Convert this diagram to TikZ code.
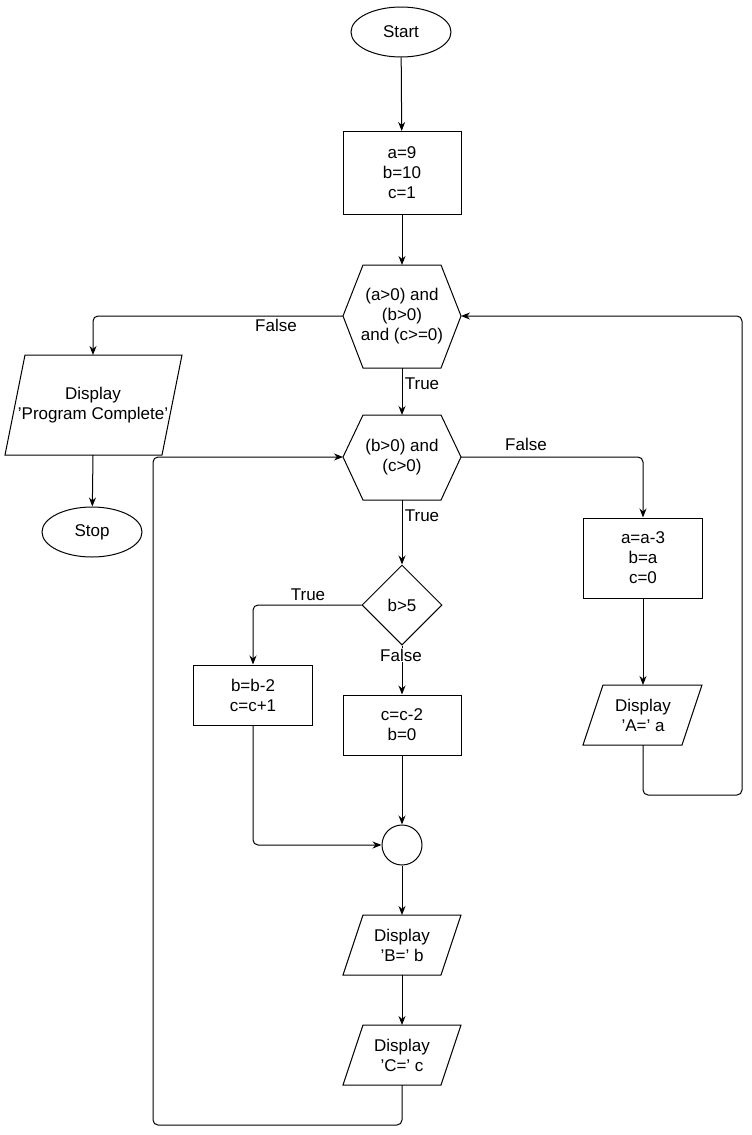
\documentclass[tikz,border=0pt]{standalone}
\usepackage{fontspec}
\setmainfont{Liberation Sans}
\usetikzlibrary{shapes.geometric,arrows.meta}
\begin{document}
\begin{tikzpicture}[x=1pt,y=-1pt,line width=1pt,
  every node/.style={font=\fontsize{17}{20}\selectfont,align=center,inner sep=0pt},
  box/.style={draw,minimum width=118pt,minimum height=#1},
  ell/.style={draw,ellipse,minimum width=100pt,minimum height=50pt},
  ar/.style={draw,-{Stealth[length=9pt,width=7pt]},rounded corners=5pt},
  lb/.style={fill=white,inner sep=1pt}]
\useasboundingbox (0,0) rectangle (752,1135);
\node[ell] (start) at (401,32) {Start};
\node[box=83pt] (init) at (402,173) {a=9\\b=10\\c=1};
\draw (343,316) -- (363,265) -- (441,265) -- (461,316) -- (441,368) -- (363,368) -- cycle;
\node (h1) at (402,316) {(a>0) and\\(b>0)\\and (c>=0)};
\coordinate (h1t) at (402,265); \coordinate (h1b) at (402,368);
\coordinate (h1l) at (343,316); \coordinate (h1r) at (461,316);
\draw (343,457) -- (363,415) -- (441,415) -- (461,457) -- (441,500) -- (363,500) -- cycle;
\node (h2) at (402,457) {(b>0) and\\(c>0)};
\coordinate (h2t) at (402,415); \coordinate (h2b) at (402,500);
\coordinate (h2l) at (343,457); \coordinate (h2r) at (461,457);
\draw (25,355) -- (182,355) -- (162,455) -- (5,455) -- cycle;
\node (pc) at (93,405) {Display\\'Program Complete'};
\coordinate (pct) at (93,355); \coordinate (pcb) at (93,455);
\node[ell] (stop) at (92,532) {Stop};
\node[box=80pt,minimum width=119pt] (aa) at (643,558) {a=a-3\\b=a\\c=0};
\draw (603,685) -- (702,685) -- (682,745) -- (583,745) -- cycle;
\node (pa) at (643,715) {Display\\'A=' a};
\coordinate (pat) at (643,685); \coordinate (pab) at (643,745);
\node[draw,diamond,minimum width=80pt,minimum height=80pt] (d) at (402,605) {b>5};
\node[box=60pt,minimum width=119pt] (bb) at (253,695) {b=b-2\\c=c+1};
\node[box=60pt] (cc) at (402,725) {c=c-2\\b=0};
\node[draw,circle,minimum size=40pt] (j) at (402,845) {};
\draw (363,915) -- (461,915) -- (441,975) -- (343,975) -- cycle;
\node (pb) at (402,945) {Display\\'B=' b};
\coordinate (pbt) at (402,915); \coordinate (pbb) at (402,975);
\draw (363,1025) -- (461,1025) -- (441,1085) -- (343,1085) -- cycle;
\node (pcc) at (402,1055) {Display\\'C=' c};
\coordinate (pcct) at (402,1025); \coordinate (pccb) at (402,1085);

\draw[ar] (start) -- (init);
\draw[ar] (init) -- (h1t);
\draw[ar] (h1l) -- (93,316) -- (pct);
\node[lb] at (276,325) {False};
\draw[ar] (h1b) -- (h2t);
\node[lb] at (422,384) {True};
\draw[ar] (pcb) -- (stop);
\draw[ar] (h2r) -- (643,457) -- (aa.north);
\node[lb] at (526,444) {False};
\draw[ar] (aa) -- (pat);
\draw[ar] (h2b) -- (d.north);
\node[lb] at (422,516) {True};
\draw[ar] (d.west) -- (253,605) -- (bb.north);
\node[lb] at (308,595) {True};
\draw[ar] (d.south) -- (cc.north);
\node[lb] at (401,655) {False};
\draw[ar] (bb.south) -- (253,845) -- (j.west);
\draw[ar] (cc) -- (j);
\draw[ar] (j) -- (pbt);
\draw[ar] (pbb) -- (pcct);
\draw[ar] (pccb) -- (402,1125) -- (153,1125) -- (153,457) -- (h2l);
\draw[ar] (pab) -- (643,795) -- (742,795) -- (742,316) -- (h1r);
\end{tikzpicture}
\end{document}
